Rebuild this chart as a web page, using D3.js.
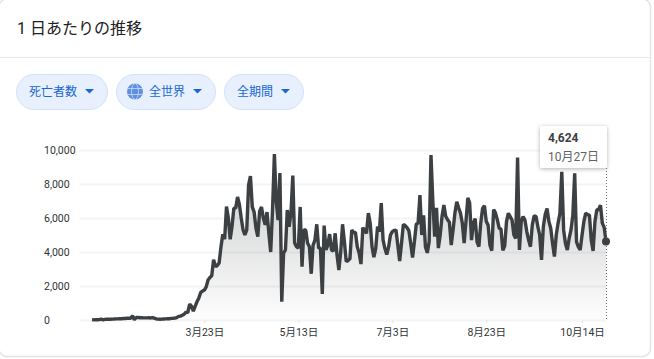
<!DOCTYPE html>
<html>
<head>
<meta charset="utf-8">
<script src="https://cdn.jsdelivr.net/npm/d3@7"></script>
<style>
html,body{margin:0;padding:0;background:#fff;overflow:hidden}
text{font-family:Roboto,"Noto Sans CJK JP",sans-serif}
</style>
</head>
<body>
<script>
const startDate=new Date(Date.UTC(2020,0,22))

// daily deaths from Jan 22 to Oct 27
const deaths=[
20,10,15,15,25,50,10,35,40,45,
45,50,55,65,65,75,75,85,90,100,
110,100,255,15,150,145,135,130,125,125,
125,130,120,145,90,60,50,45,50,60,
65,70,75,95,100,110,140,210,230,280,
340,470,430,940,820,520,800,1080,1300,1620,
1700,1760,1950,2350,2500,2600,3550,3150,3200,3350,
4300,5040,4750,6670,6000,4750,5500,6580,6580,7240,
6800,6000,5300,5000,5300,7950,8470,6650,6350,5400,
4900,6400,6650,6000,5600,6350,5100,4000,6500,9760,
6960,5880,8650,1080,3940,4120,6470,5490,6290,8490,
4530,4310,4230,6650,3140,5290,5290,4530,4310,2720,
4410,4700,5630,4230,4230,1530,5550,4120,4410,5050,
4120,4060,5100,3820,2940,4000,5630,4610,3430,3500,
3600,5290,5150,5150,4310,3940,3290,5430,5290,5100,
6290,5700,4300,3700,4200,5490,5200,6880,4700,4200,
3850,4300,5000,5200,5270,5290,4400,3470,4500,5630,
5550,5430,5250,4500,3670,4600,5630,5700,7350,5000,
6150,4300,3950,4600,9700,7000,4900,6600,4230,5000,
6100,6760,6100,5900,5750,4410,5300,6300,6960,6600,
6290,5700,4530,5800,7190,6880,4700,5700,5970,4600,
4310,5700,6560,6720,5800,5590,4400,4080,6500,6300,
5900,5400,5350,4100,4350,5800,6280,6080,5880,5000,
4800,9550,4120,5800,6080,5880,5200,4700,4310,5600,
6120,6100,5490,5000,3530,5500,6200,6560,5800,5400,
4500,3730,5000,5700,6280,8720,5300,4500,4120,4800,
5300,6170,8630,4600,4300,4120,5000,5800,6280,6200,
6170,4700,4060,5800,6470,6500,6760,5700,5450,4624]

const yTicks=[0,2000,4000,6000,8000,10000]
const xTickDates=[new Date(Date.UTC(2020,2,23)),new Date(Date.UTC(2020,4,13)),new Date(Date.UTC(2020,6,3)),new Date(Date.UTC(2020,7,23)),new Date(Date.UTC(2020,9,14))]
const xTickLabels=["3月23日","5月13日","7月3日","8月23日","10月14日"]
const pills=["死亡者数","全世界","全期間"]
const pillBoxes=[[16,92,13],[116,100,33],[224,80,13]]

const data=deaths.map((d,i)=>({date:d3.utcDay.offset(startDate,i),value:d}))

const svg=d3.select("body")
            .append("svg")
            .attr("width",654)
            .attr("height",359)
            .style("display","block")

const defs=svg.append("defs")
const grad=defs.append("linearGradient")
               .attr("id","fade")
               .attr("x1",0).attr("x2",0).attr("y1",0).attr("y2",1)
grad.append("stop").attr("offset","0%").attr("stop-color","#3c4043").attr("stop-opacity",0.26)
grad.append("stop").attr("offset","50%").attr("stop-color","#3c4043").attr("stop-opacity",0.15)
grad.append("stop").attr("offset","100%").attr("stop-color","#3c4043").attr("stop-opacity",0.01)

const shadow=defs.append("filter").attr("id","shadow")
                 .attr("x","-20%").attr("y","-20%").attr("width","140%").attr("height","150%")
shadow.append("feDropShadow")
      .attr("dx",0).attr("dy",1).attr("stdDeviation",2)
      .attr("flood-color","#000").attr("flood-opacity",0.3)

// card
svg.append("rect")
   .attr("x",-1).attr("y",-1)
   .attr("width",651.5).attr("height",357.5)
   .attr("rx",8)
   .attr("fill","#fff")
   .attr("stroke","#e3e4e6")
   .attr("stroke-width",1.5)

svg.append("text")
   .attr("x",17).attr("y",34)
   .attr("font-size",16)
   .attr("fill","#202124")
   .text("1 日あたりの推移")

svg.append("line")
   .attr("x1",0).attr("x2",650)
   .attr("y1",57.5).attr("y2",57.5)
   .attr("stroke","#e8eaed")

// filter pills
const pill=svg.selectAll("g.pill")
              .data(pills)
              .enter()
              .append("g")
              .attr("class","pill")
              .attr("transform",(d,i)=>`translate(${pillBoxes[i][0]},74)`)

pill.append("rect")
    .attr("x",0.5).attr("y",0.5)
    .attr("width",(d,i)=>pillBoxes[i][1]-1)
    .attr("height",35)
    .attr("rx",17.5)
    .attr("fill","#e8f0fe")
    .attr("stroke","#d2e3fc")

pill.append("text")
    .attr("x",(d,i)=>pillBoxes[i][2])
    .attr("y",22)
    .attr("font-size",12)
    .attr("fill","#1967d2")
    .text(d=>d)

pill.append("path")
    .attr("d",(d,i)=>{
        const x=pillBoxes[i][1]-23
        return `M${x} 15h9l-4.5 4.5z`
    })
    .attr("fill","#1967d2")

// globe icon in the second pill
const globe=svg.append("g")
               .attr("transform","translate(135,91.5)")
globe.append("circle").attr("r",8).attr("fill","#5f8fe0")
globe.append("ellipse").attr("rx",3.5).attr("ry",8).attr("fill","none").attr("stroke","#cfdffa").attr("stroke-width",0.8)
globe.append("line").attr("x1",-7).attr("x2",7).attr("y1",-3).attr("y2",-3).attr("stroke","#cfdffa").attr("stroke-width",0.8)
globe.append("line").attr("x1",-7).attr("x2",7).attr("y1",3).attr("y2",3).attr("stroke","#cfdffa").attr("stroke-width",0.8)

// chart
const xscale=d3.scaleUtc()
               .domain([startDate,data[data.length-1].date])
               .range([92,606])

const yscale=d3.scaleLinear()
               .domain([0,10000])
               .range([320,150])

const yaxis=svg.append("g")
   .attr("transform","translate(606,0)")
   .call(d3.axisLeft(yscale).tickValues(yTicks).tickSize(526).tickFormat(d3.format(",")))
yaxis.select(".domain").remove()
yaxis.selectAll("line").attr("stroke","#f3f4f5").attr("stroke-width",2)
yaxis.selectAll("text")
     .attr("x",-562)
     .attr("text-anchor","start")
     .attr("font-size",10.5)
     .attr("font-family",'Roboto,"Noto Sans CJK JP",sans-serif')
     .attr("fill","#303336")

const xaxis=svg.append("g")
   .attr("transform","translate(0,320)")
   .call(d3.axisBottom(xscale).tickValues(xTickDates).tickSize(3).tickPadding(6).tickFormat((d,i)=>xTickLabels[i]))
xaxis.select(".domain").remove()
xaxis.selectAll("line").attr("stroke","#e3e4e6")
xaxis.selectAll("text")
     .attr("font-size",10.5)
     .attr("font-family",'Roboto,"Noto Sans CJK JP",sans-serif')
     .attr("fill","#303336")

svg.append("path")
   .datum(data)
   .attr("fill","url(#fade)")
   .attr("d",d3.area().x(d=>xscale(d.date)).y0(yscale(0)).y1(d=>yscale(d.value)))

svg.append("path")
   .datum(data)
   .attr("fill","none")
   .attr("stroke","#3c4043")
   .attr("stroke-width",3.4)
   .attr("stroke-linejoin","bevel")
   .attr("d",d3.line().x(d=>xscale(d.date)).y(d=>yscale(d.value)))

const last=data[data.length-1]

svg.append("line")
   .attr("x1",xscale(last.date)+0.5).attr("x2",xscale(last.date)+0.5)
   .attr("y1",168).attr("y2",yscale(0))
   .attr("stroke","#70757a")
   .attr("stroke-dasharray","1,2")

svg.append("circle")
   .attr("cx",xscale(last.date))
   .attr("cy",yscale(last.value))
   .attr("r",4)
   .attr("fill","#3c4043")

// tooltip
svg.append("rect")
   .attr("x",540).attr("y",126)
   .attr("width",67).attr("height",42)
   .attr("rx",2)
   .attr("fill","#fff")
   .attr("filter","url(#shadow)")

svg.append("text")
   .attr("x",548).attr("y",142)
   .attr("font-size",12)
   .attr("font-weight",700)
   .attr("fill","#3c4043")
   .text(d3.format(",")(last.value))

svg.append("text")
   .attr("x",548).attr("y",161)
   .attr("font-size",12)
   .attr("fill","#5f6368")
   .text("10月27日")
</script>
</body>
</html>
